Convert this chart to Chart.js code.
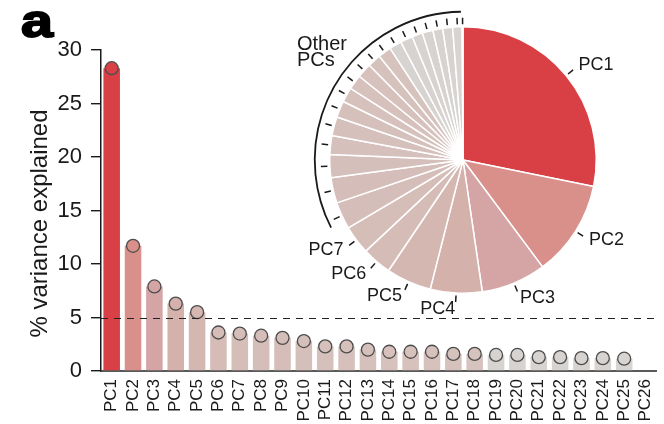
<!DOCTYPE html>
<html>
<head>
<meta charset="utf-8">
<script src="https://cdn.jsdelivr.net/npm/chart.js@4.4.1/dist/chart.umd.min.js"></script>
<style>
  html, body { margin: 0; padding: 0; background: #fff; }
  #wrap { position: relative; width: 664px; height: 424px; overflow: hidden; }
  #bars { position: absolute; left: 0; top: 0; }
  #pie { position: absolute; left: 263px; top: 0; pointer-events: none; }
</style>
</head>
<body>
<div id="wrap">
  <canvas id="bars" width="664" height="424"></canvas>
  <canvas id="pie" width="400" height="320"></canvas>
</div>
<script>
// Principal components and the share of variance each one explains (%)
const components = ['PC1','PC2','PC3','PC4','PC5','PC6','PC7','PC8','PC9','PC10','PC11','PC12','PC13',
                    'PC14','PC15','PC16','PC17','PC18','PC19','PC20','PC21','PC22','PC23','PC24','PC25','PC26'];
const variance = [28.3, 11.7, 7.9, 6.3, 5.5, 3.6, 3.5, 3.3, 3.1, 2.8, 2.3, 2.3, 2.0,
                  1.8, 1.8, 1.8, 1.6, 1.6, 1.5, 1.5, 1.3, 1.3, 1.2, 1.2, 1.15, 0.1];
const barCount = 25;          // PC26 is only a sliver in the pie
const yTicks = [0, 5, 10, 15, 20, 25, 30];
const threshold = 5;          // dashed reference level
const namedSlices = 7;        // PC1–PC7 are named next to the pie
const otherLabel = ['Other', 'PCs'];
const yTitle = '% variance explained';
const panelLetter = 'a';

// Fill for each component, fading from red to grey
const colours = ['#d94045','#d98f8a','#d5a5a6','#d5b1ac','#d5b7b2','#d5bcb7','#d5bdb8','#d5beb9',
                 '#d5beb9','#d5bfba','#d5c0bb','#d5c0bb','#d5c0bb','#d6c1bc','#d6c1bc','#d6c1bc',
                 '#d6c2bd','#d6c3be','#d7d3d0','#d7d3d0','#d7d3d0','#d7d3d0','#d7d3d0','#d7d3d0',
                 '#d8d4d1','#d8d4d1'];

const FONT = "'Liberation Sans', Arial, Helvetica, sans-serif";
const INK = '#1a1a1a';
Chart.defaults.font.family = FONT;
Chart.defaults.color = INK;

// Dashed horizontal line at the threshold
const thresholdLine = {
  id: 'thresholdLine',
  afterDatasetsDraw(chart) {
    const { ctx, chartArea, scales } = chart;
    const y = Math.round(scales.y.getPixelForValue(threshold)) + 0.5;
    ctx.save();
    ctx.strokeStyle = '#222';
    ctx.lineWidth = 1.2;
    ctx.setLineDash([7, 6]);
    ctx.beginPath();
    ctx.moveTo(chartArea.left, y);
    ctx.lineTo(chartArea.right, y);
    ctx.stroke();
    ctx.restore();
  }
};

// Panel letter and the rotated y-axis title
const sideText = {
  id: 'sideText',
  afterDraw(chart) {
    const ctx = chart.ctx;
    ctx.save();
    ctx.translate(21, 37);
    ctx.scale(1.25, 1);
    ctx.font = 'bold 46px ' + FONT;
    ctx.fillStyle = '#000';
    ctx.strokeStyle = '#000';
    ctx.lineWidth = 1.8;
    ctx.textBaseline = 'alphabetic';
    ctx.fillText(panelLetter, 0, 0);
    ctx.strokeText(panelLetter, 0, 0);
    ctx.restore();

    const area = chart.chartArea;
    ctx.save();
    ctx.translate(40, (area.top + area.bottom) / 2 + 13);
    ctx.rotate(-Math.PI / 2);
    ctx.font = '24px ' + FONT;
    ctx.fillStyle = INK;
    ctx.textAlign = 'center';
    ctx.textBaseline = 'middle';
    ctx.fillText(yTitle, 0, 0);
    ctx.restore();
  }
};

new Chart(document.getElementById('bars'), {
  data: {
    labels: components,
    datasets: [
      {
        type: 'bar',
        data: variance.slice(0, barCount),
        backgroundColor: colours,
        borderWidth: 0,
        barPercentage: 0.775,
        categoryPercentage: 1,
        order: 2
      },
      {
        type: 'line',
        data: variance.slice(0, barCount),
        showLine: false,
        pointRadius: 6.5,
        pointBackgroundColor: colours,
        pointBorderColor: '#4d4d4d',
        pointBorderWidth: 1.3,
        order: 1
      }
    ]
  },
  options: {
    responsive: false,
    animation: false,
    layout: { padding: { left: 26, top: 50, right: 0, bottom: 0 } },
    plugins: { legend: { display: false }, tooltip: { enabled: false } },
    scales: {
      x: {
        grid: { display: false, drawTicks: false },
        border: { display: true, color: '#5a5a5a', width: 2 },
        ticks: { autoSkip: false, maxRotation: 90, minRotation: 90, padding: 8, color: INK,
                 font: { size: 17 } },
        afterFit(s) { s.height = 53; s.paddingLeft = 0; s.paddingRight = 0; }
      },
      y: {
        min: 0, max: 30,
        afterBuildTicks(s) { s.ticks = yTicks.map(v => ({ value: v })); },
        ticks: { padding: 9, color: INK, font: { size: 22 } },
        grid: { drawOnChartArea: false, tickLength: 10, color: INK, lineWidth: 1.4 },
        border: { color: INK, width: 1.5 },
        afterFit(s) { s.width = 75; }
      }
    }
  },
  plugins: [thresholdLine, sideText]
});

// Leader ticks, slice names and the bracket for the remaining components
const pieNotes = {
  id: 'pieNotes',
  afterDatasetsDraw(chart) {
    const ctx = chart.ctx;
    const arcs = chart.getDatasetMeta(0).data;
    ctx.save();
    ctx.strokeStyle = '#1a1a1a';
    ctx.fillStyle = INK;
    ctx.lineWidth = 1.5;
    ctx.font = '18px ' + FONT;
    ctx.textBaseline = 'middle';
    let cx = 0, cy = 0, R = 0;
    arcs.forEach((arc, i) => {
      const p = arc.getProps(['x', 'y', 'startAngle', 'endAngle', 'outerRadius'], true);
      cx = p.x; cy = p.y; R = p.outerRadius;
      const mid = (p.startAngle + p.endAngle) / 2;
      const c = Math.cos(mid), s = Math.sin(mid);
      ctx.beginPath();
      ctx.moveTo(p.x + c * (R + 2.5), p.y + s * (R + 2.5));
      ctx.lineTo(p.x + c * (R + 9), p.y + s * (R + 9));
      ctx.stroke();
      if (i < namedSlices) {
        ctx.textAlign = c >= 0 ? 'left' : 'right';
        ctx.fillText(components[i], p.x + c * (R + 16), p.y + s * (R + 16));
      }
    });
    // bracket spanning the unnamed slices
    const first = arcs[namedSlices].getProps(['startAngle'], true).startAngle;
    const last = arcs[arcs.length - 1].getProps(['endAngle'], true).endAngle;
    ctx.lineWidth = 1.8;
    ctx.beginPath();
    ctx.arc(cx, cy, R + 15, first + 0.06, last - 0.014);
    ctx.stroke();
    ctx.font = '20px ' + FONT;
    ctx.textAlign = 'left';
    ctx.textBaseline = 'alphabetic';
    ctx.fillText(otherLabel[0], cx - 166, cy - 110);
    ctx.fillText(otherLabel[1], cx - 166, cy - 94);
    ctx.restore();
  }
};

new Chart(document.getElementById('pie'), {
  type: 'pie',
  data: {
    labels: components,
    datasets: [{ data: variance, backgroundColor: colours, borderColor: '#ffffff', borderWidth: 1.5 }]
  },
  options: {
    responsive: false,
    animation: false,
    layout: { padding: { left: 66, right: 66, top: 26, bottom: 26 } },
    plugins: { legend: { display: false }, tooltip: { enabled: false } }
  },
  plugins: [pieNotes]
});
</script>
</body>
</html>
